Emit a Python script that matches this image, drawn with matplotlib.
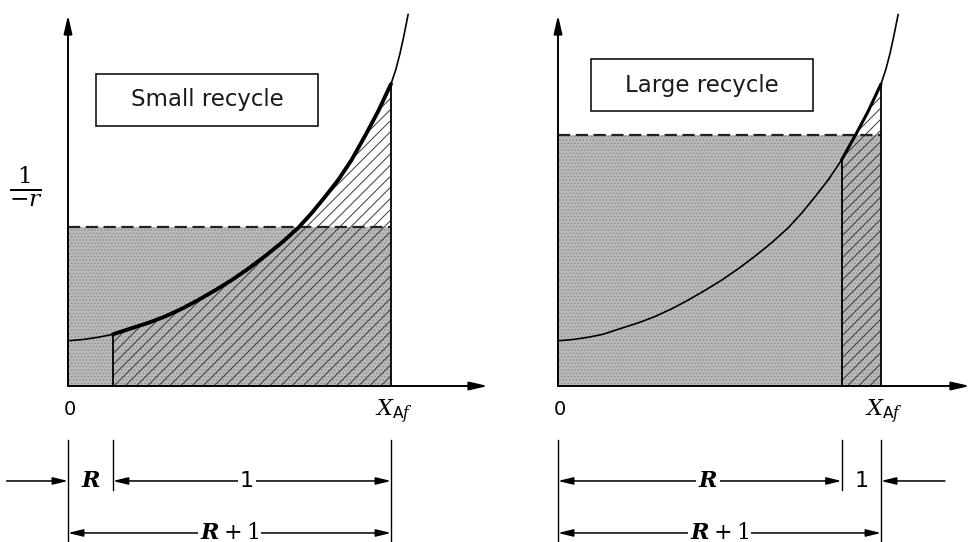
import numpy as np
import matplotlib.pyplot as plt
from matplotlib.patches import Rectangle

plt.rcParams['mathtext.fontset'] = 'dejavuserif'
plt.rcParams['font.family'] = 'DejaVu Sans'

# 1/(-r) against X_A (X_Af taken as 1)
curve_x = [0.0, 0.047, 0.094, 0.139, 0.197, 0.25, 0.300, 0.352, 0.403, 0.455, 0.507,
           0.558, 0.610, 0.662, 0.713, 0.755, 0.796, 0.838, 0.878, 0.920, 0.960,
           1.0, 1.015, 1.028, 1.04, 1.053]
curve_y = [0.140, 0.144, 0.151, 0.160, 0.179, 0.196, 0.215, 0.239, 0.266, 0.296, 0.328,
           0.363, 0.402, 0.444, 0.490, 0.536, 0.586, 0.640, 0.700, 0.775, 0.850,
           0.935, 0.980, 1.030, 1.085, 1.150]

panel_titles = ['Small recycle', 'Large recycle']
entry_x = [0.139, 0.878]       # X_Ai, where the recycle joins the feed
mean_level = [0.492, 0.777]    # dashed line, height of the R+1 rectangle
x_end = 1.0                    # X_Af

cx = np.array(curve_x)
cy = np.array(curve_y)

fig = plt.figure(figsize=(9.72, 5.42), dpi=100)
scale = 323.0
panel_px = [(0, 490), (490, 482)]
box_pos = [(0.087, 0.805), (0.102, 0.851)]

arrow_kw = dict(arrowstyle='-|>,head_length=0.9,head_width=0.22', color='black',
                lw=1.1, shrinkA=0, shrinkB=0)
axis_kw = dict(arrowstyle='-|>,head_length=1.1,head_width=0.25', color='black',
               lw=1.4, shrinkA=0, shrinkB=0)
dbl_kw = dict(arrowstyle='<|-|>,head_length=0.9,head_width=0.22', color='black',
              lw=1.1, shrinkA=0, shrinkB=0)

for i in range(2):
    left, width = panel_px[i]
    ax = fig.add_axes([left / 972, 0, width / 972, 1])
    ax.set_xlim(-68 / scale, (width - 68) / scale)
    ax.set_ylim(-(542 - 386) / scale, 386 / scale)
    ax.axis('off')

    xr = entry_x[i]
    lev = mean_level[i]

    # stippled gray rectangle (R+1) * X_Af
    with plt.rc_context({'hatch.linewidth': 0.6}):
        ax.fill_between([0, x_end], 0, lev, facecolor='#b9b9b9', edgecolor='#8c8c8c',
                        hatch='.....', linewidth=0, zorder=1)
    # area under the curve from X_Ai to X_Af
    under = (cx >= xr) & (cx <= x_end)
    with plt.rc_context({'hatch.linewidth': 0.7}):
        ax.fill_between(cx[under], 0, cy[under], facecolor='none', edgecolor='#3a3a3a',
                        hatch='///', linewidth=0, zorder=2)

    ax.plot([0, x_end], [lev, lev], color='#222222', lw=1.6, ls=(0, (5.5, 2.5)), zorder=3)
    ax.plot([x_end, x_end], [0, cy[cx == x_end][0]], color='black', lw=1.3, zorder=3)
    ax.plot([xr, xr], [0, cy[cx == xr][0]], color='black', lw=1.3, zorder=3)

    ax.plot(cx, cy, color='black', lw=1.2, zorder=4)
    ax.plot(cx[under], cy[under], color='black', lw=2.8 if i == 0 else 2.2,
            solid_capstyle='round', solid_joinstyle='round', zorder=4)

    # axes with arrows
    ax.annotate('', xy=(0, 371 / scale), xytext=(0, 0), arrowprops=axis_kw,
                annotation_clip=False, zorder=5)
    ax.annotate('', xy=((width - 68 - 2) / scale, 0), xytext=(0, 0), arrowprops=axis_kw,
                annotation_clip=False, zorder=5)

    bx, by = box_pos[i]
    ax.add_patch(Rectangle((bx, by), 0.687, 0.161, facecolor='white', edgecolor='black',
                           lw=1.1, zorder=6))
    ax.text(bx + 0.687 / 2, by + 0.161 / 2, panel_titles[i], ha='center', va='center',
            fontsize=16.5, color='#1a1a1a', zorder=7)

    if i == 0:
        ax.text(-0.13, 0.616, r'$\frac{1}{-r}$', ha='center', va='center', fontsize=24)

    ax.text(0.006, -0.074, '0', ha='center', va='center', fontsize=14)
    ax.text(1.01, -0.08, r'$X_{\mathsf{A}f}$', ha='center', va='center', fontsize=16)

    # dimension lines below the axis
    ax.plot([0, 0], [-0.167, -0.483], color='black', lw=1.0)
    ax.plot([x_end, x_end], [-0.167, -0.483], color='black', lw=1.0)
    ax.plot([xr, xr], [-0.167, -0.322], color='black', lw=1.0)

    r1, r2 = -0.294, -0.455
    lab_kw = dict(ha='center', va='center', fontsize=16,
                  bbox=dict(facecolor='white', edgecolor='none', pad=1.5))
    if i == 0:
        ax.annotate('', xy=(0, r1), xytext=(-0.19, r1), arrowprops=arrow_kw,
                    annotation_clip=False)
        ax.text(xr / 2 + 0.002, r1, r'$\boldsymbol{R}$', ha='center', va='center', fontsize=16)
        ax.annotate('', xy=(x_end, r1), xytext=(xr, r1), arrowprops=dbl_kw)
        ax.text(0.554, r1, '1', **lab_kw)
    else:
        ax.annotate('', xy=(xr, r1), xytext=(0, r1), arrowprops=dbl_kw)
        ax.text(0.464, r1, r'$\boldsymbol{R}$', **lab_kw)
        ax.text((xr + x_end) / 2 + 0.002, r1, '1', ha='center', va='center', fontsize=16)
        ax.annotate('', xy=(x_end, r1), xytext=(1.198, r1), arrowprops=arrow_kw,
                    annotation_clip=False)
    ax.annotate('', xy=(x_end, r2), xytext=(0, r2), arrowprops=dbl_kw)
    ax.text(0.50, r2, r'$\boldsymbol{R} + 1$', **lab_kw)

fig.savefig('out.png', dpi=100)
